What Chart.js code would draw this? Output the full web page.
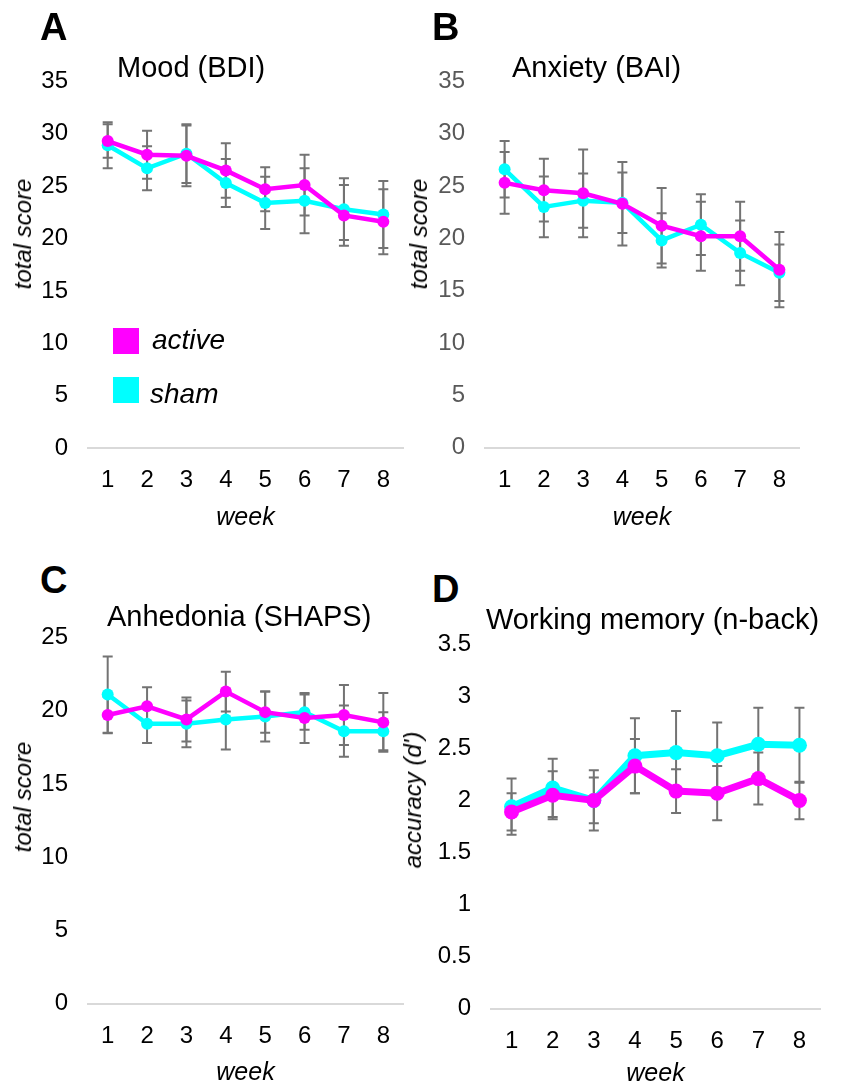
<!DOCTYPE html>
<html>
<head>
<meta charset="utf-8">
<script src="https://cdn.jsdelivr.net/npm/chart.js@4.4.0/dist/chart.umd.min.js"></script>
<style>
  body { margin: 0; background: #fff; font-family: "Liberation Sans", Arial, sans-serif; color: #000; }
  #page { position: relative; width: 843px; height: 1084px; overflow: hidden; }
  .panel { position: absolute; }
  .letter { position: absolute; font-weight: bold; font-size: 38px; line-height: 1; }
  .title { position: absolute; font-size: 29px; line-height: 1; white-space: nowrap; }
  .ytitle { position: absolute; font-size: 24px; font-style: italic; line-height: 1; white-space: nowrap;
            transform: translate(-50%, -50%) rotate(-90deg); }
  .swatch { position: absolute; width: 26px; height: 26px; }
  .legtext { position: absolute; font-size: 28px; font-style: italic; line-height: 1; }
</style>
</head>
<body>
<div id="page">
  <canvas class="panel" id="bdi" width="420" height="484" style="left:0;top:47px"></canvas>
  <canvas class="panel" id="bai" width="423" height="484" style="left:420px;top:47px"></canvas>
  <canvas class="panel" id="shaps" width="420" height="482" style="left:0;top:603px"></canvas>
  <canvas class="panel" id="nback" width="423" height="475" style="left:420px;top:610px"></canvas>

  <div class="letter" style="left:40px;top:8px">A</div>
  <div class="letter" style="left:432px;top:8px">B</div>
  <div class="letter" style="left:40px;top:561px">C</div>
  <div class="letter" style="left:432px;top:570px">D</div>

  <div class="title" style="left:117px;top:53px">Mood (BDI)</div>
  <div class="title" style="left:512px;top:53px">Anxiety (BAI)</div>
  <div class="title" style="left:107px;top:602px">Anhedonia (SHAPS)</div>
  <div class="title" style="left:486px;top:605px">Working memory (n-back)</div>

  <div class="ytitle" style="left:23px;top:234px">total score</div>
  <div class="ytitle" style="left:419px;top:234px">total score</div>
  <div class="ytitle" style="left:23px;top:797px">total score</div>
  <div class="ytitle" style="left:413px;top:800px">accuracy (d')</div>

  <div id="legend"></div>
</div>

<script>
// weeks of treatment
const weeks = ["1", "2", "3", "4", "5", "6", "7", "8"];
const groups = ["active", "sham"];
const groupColors = ["#ff00ff", "#00ffff"];

// Mood (BDI), mean and error
const bdiActive = [29.3, 28.0, 27.9, 26.5, 24.7, 25.1, 22.2, 21.6];
const bdiActiveErr = [1.6, 2.3, 2.9, 2.6, 2.1, 2.9, 2.9, 3.1];
const bdiSham = [28.9, 26.7, 28.1, 25.3, 23.4, 23.6, 22.8, 22.3];
const bdiShamErr = [2.2, 2.1, 2.8, 2.3, 2.5, 3.1, 2.95, 3.2];

// Anxiety (BAI)
const baiActive = [25.3, 24.6, 24.3, 23.3, 21.2, 20.2, 20.2, 17.0];
const baiActiveErr = [2.95, 3.0, 4.2, 4.0, 3.6, 3.3, 3.3, 3.6];
const baiSham = [26.6, 23.0, 23.6, 23.4, 19.8, 21.3, 18.6, 16.7];
const baiShamErr = [2.7, 2.9, 2.6, 2.9, 2.6, 2.9, 3.1, 2.7];

// Anhedonia (SHAPS)
const shapsActive = [19.7, 20.3, 19.4, 21.3, 19.9, 19.5, 19.7, 19.2];
const shapsActiveErr = [1.25, 1.3, 1.5, 1.35, 1.4, 1.7, 2.05, 2.0];
const shapsSham = [21.1, 19.1, 19.1, 19.4, 19.6, 19.9, 18.6, 18.6];
const shapsShamErr = [2.6, 1.3, 1.6, 2.05, 1.7, 1.2, 1.75, 1.3];

// Working memory (n-back accuracy d')
const nbackActive = [1.89, 2.05, 2.0, 2.33, 2.09, 2.07, 2.21, 2.0];
const nbackActiveErr = [0.18, 0.23, 0.29, 0.26, 0.21, 0.26, 0.25, 0.18];
const nbackSham = [1.94, 2.12, 2.0, 2.43, 2.46, 2.43, 2.54, 2.53];
const nbackShamErr = [0.27, 0.28, 0.22, 0.36, 0.40, 0.32, 0.35, 0.36];

Chart.defaults.font.family = '"Liberation Sans", Arial, sans-serif';
Chart.defaults.animation = false;

// error bars go under the lines and markers
const errorBars = {
  id: "errorBars",
  beforeDatasetsDraw(chart) {
    const ctx = chart.ctx;
    const y = chart.scales.y;
    ctx.save();
    ctx.strokeStyle = "#737373";
    ctx.lineWidth = 2;
    chart.data.datasets.forEach((ds, i) => {
      const meta = chart.getDatasetMeta(i);
      meta.data.forEach((pt, j) => {
        const v = ds.data[j], e = ds.errors[j];
        const top = y.getPixelForValue(v + e);
        const bot = y.getPixelForValue(v - e);
        ctx.beginPath();
        ctx.moveTo(pt.x, top); ctx.lineTo(pt.x, bot);
        ctx.moveTo(pt.x - 5, top); ctx.lineTo(pt.x + 5, top);
        ctx.moveTo(pt.x - 5, bot); ctx.lineTo(pt.x + 5, bot);
        ctx.stroke();
      });
    });
    ctx.restore();
  }
};

function makePanel(id, series, errs, p) {
  return new Chart(document.getElementById(id), {
    type: "line",
    data: {
      labels: weeks,
      datasets: series.map((s, i) => ({
        label: groups[i],
        data: s,
        errors: errs[i],
        borderColor: groupColors[i],
        backgroundColor: groupColors[i],
        borderWidth: p.lineWidth,
        pointRadius: p.pointRadius,
        pointBorderWidth: 0,
        tension: 0
      }))
    },
    options: {
      responsive: false,
      layout: { padding: { top: 0, right: p.padRight, left: 0, bottom: 0 } },
      plugins: { legend: { display: false }, tooltip: { enabled: false } },
      scales: {
        x: {
          offset: true,
          grid: { display: false, drawTicks: false },
          border: { display: true, color: "#d9d9d9", width: 2 },
          ticks: { color: "#000", font: { size: 24 }, padding: 18 },
          title: { display: true, text: "week", color: "#000",
                   font: { size: 25, style: "italic" }, padding: { top: 0, bottom: p.weekPad } },
          afterFit: s => { s.height = p.xHeight; }
        },
        y: {
          min: 0, max: p.yMax,
          grid: { display: false, drawTicks: false },
          border: { display: false },
          ticks: { stepSize: p.yStep, color: p.tickColor, font: { size: 24 }, padding: 20,
                   callback: v => String(v) },
          afterFit: s => { s.width = p.yWidth; }
        }
      }
    },
    plugins: [errorBars]
  });
}

makePanel("bdi", [bdiActive, bdiSham], [bdiActiveErr, bdiShamErr],
  { yMax: 35, yStep: 5, tickColor: "#000", padRight: 17, yWidth: 88, xHeight: 83, weekPad: -2, lineWidth: 4.5, pointRadius: 6 });
makePanel("bai", [baiActive, baiSham], [baiActiveErr, baiShamErr],
  { yMax: 35, yStep: 5, tickColor: "#595959", padRight: 44, yWidth: 65, xHeight: 83.5, weekPad: -2, lineWidth: 4.5, pointRadius: 6 });
makePanel("shaps", [shapsActive, shapsSham], [shapsActiveErr, shapsShamErr],
  { yMax: 25, yStep: 5, tickColor: "#000", padRight: 17, yWidth: 88, xHeight: 81.3, weekPad: -3, lineWidth: 4.5, pointRadius: 6 });
makePanel("nback", [nbackActive, nbackSham], [nbackActiveErr, nbackShamErr],
  { yMax: 3.5, yStep: 0.5, tickColor: "#000", padRight: 23, yWidth: 71, xHeight: 76.5, weekPad: -4, lineWidth: 7, pointRadius: 7.5 });

// legend inside the mood panel
const legend = document.getElementById("legend");
const legendRows = [{ box: 328, text: 326, left: 152 }, { box: 377, text: 380, left: 150 }];
groups.forEach((g, i) => {
  const sw = document.createElement("div");
  sw.className = "swatch";
  sw.style.cssText = `left:113px;top:${legendRows[i].box}px;background:${groupColors[i]}`;
  const tx = document.createElement("div");
  tx.className = "legtext";
  tx.style.cssText = `left:${legendRows[i].left}px;top:${legendRows[i].text}px`;
  tx.textContent = g;
  legend.appendChild(sw);
  legend.appendChild(tx);
});
</script>
</body>
</html>
